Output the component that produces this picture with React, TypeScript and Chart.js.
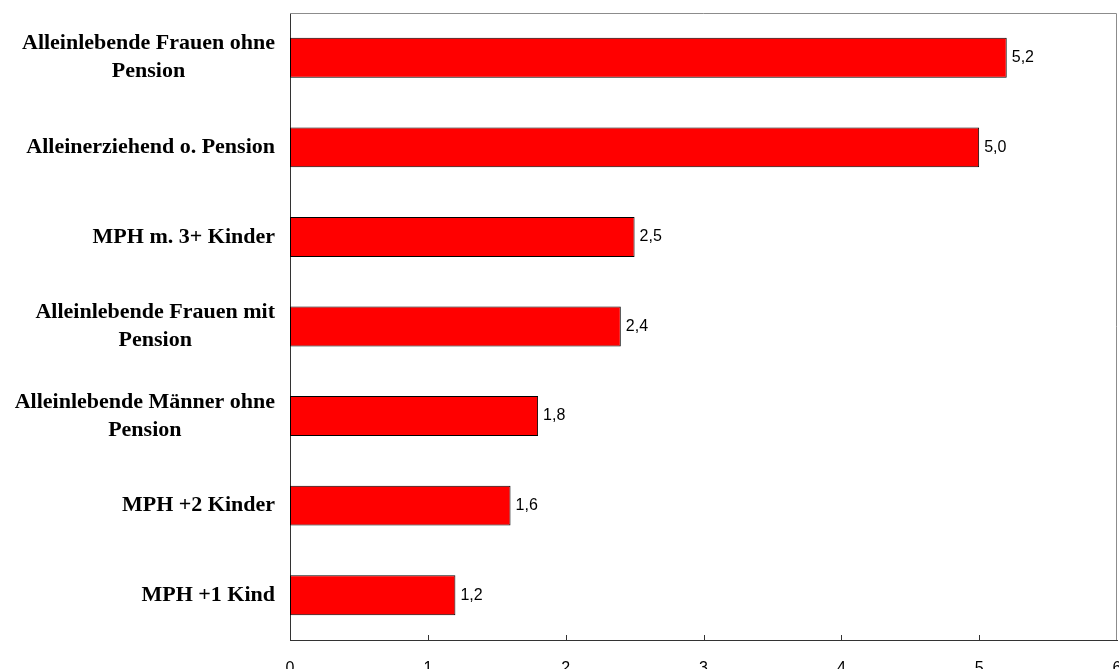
import React, { useEffect, useRef } from "react";
import { Chart, registerables } from "chart.js";

Chart.register(...registerables);

const categories: string[][] = [
  ["Alleinlebende Frauen ohne", "Pension"],
  ["Alleinerziehend o. Pension"],
  ["MPH m. 3+ Kinder"],
  ["Alleinlebende Frauen mit", "Pension"],
  ["Alleinlebende Männer ohne", "Pension"],
  ["MPH +2 Kinder"],
  ["MPH +1 Kind"],
];
const values: number[] = [5.2, 5.0, 2.5, 2.4, 1.8, 1.6, 1.2];
const xMin = 0;
const xMax = 6;
const xStep = 1;

const fmt = (v: number) => v.toFixed(1).replace(".", ",");

const framePlugin = {
  id: "frame",
  beforeDatasetsDraw(chart: any) {
    const { ctx, chartArea } = chart;
    const { left, right, top, bottom } = chartArea;
    ctx.save();
    ctx.strokeStyle = "#8c8c8c";
    ctx.lineWidth = 1;
    ctx.beginPath();
    ctx.moveTo(left, top + 0.5);
    ctx.lineTo(right - 0.5, top + 0.5);
    ctx.lineTo(right - 0.5, bottom);
    ctx.stroke();
    // inner tick marks on bottom axis
    const xs = chart.scales.x;
    ctx.strokeStyle = "#333333";
    ctx.beginPath();
    for (let v = xMin + xStep; v < xMax; v += xStep) {
      const px = Math.round(xs.getPixelForValue(v)) + 0.5;
      ctx.moveTo(px, bottom);
      ctx.lineTo(px, bottom - 5);
    }
    ctx.stroke();
    ctx.restore();
  },
  afterDraw(chart: any) {
    const { ctx } = chart;
    const ys = chart.scales.y;
    ctx.save();
    // category labels: block right-aligned, lines centered
    ctx.font = 'bold 22px "Liberation Serif", "Times New Roman", serif';
    ctx.fillStyle = "#000";
    ctx.textAlign = "center";
    ctx.textBaseline = "middle";
    const lh = 28;
    categories.forEach((lines, i) => {
      const cy = ys.getPixelForValue(i);
      const w = Math.max(...lines.map((l) => ctx.measureText(l).width));
      const cx = ys.right - 15 - w / 2;
      lines.forEach((l, j) => {
        ctx.fillText(l, cx, cy + (j - (lines.length - 1) / 2) * lh);
      });
    });
    // value labels
    ctx.font = '16px "Liberation Sans", Arial, sans-serif';
    ctx.textAlign = "left";
    const meta = chart.getDatasetMeta(0);
    meta.data.forEach((bar: any, i: number) => {
      ctx.fillText(fmt(values[i]), bar.x + 5, bar.y);
    });
    ctx.restore();
  },
};

export default function App() {
  const ref = useRef<HTMLCanvasElement | null>(null);
  useEffect(() => {
    if (!ref.current) return;
    const chart = new Chart(ref.current, {
      type: "bar",
      data: {
        labels: categories.map((c) => c.join(" ")),
        datasets: [
          {
            data: values,
            backgroundColor: "#ff0000",
            borderColor: "#000000",
            borderWidth: 1,
            borderSkipped: false,
            barPercentage: 0.446,
            categoryPercentage: 1,
          },
        ],
      },
      options: {
        indexAxis: "y",
        animation: false,
        responsive: true,
        maintainAspectRatio: false,
        layout: { padding: { top: 13, right: 2, left: 0, bottom: 0 } },
        plugins: {
          legend: { display: false },
          tooltip: { enabled: false },
        },
        scales: {
          x: {
            type: "linear",
            min: xMin,
            max: xMax,
            ticks: {
              stepSize: xStep,
              color: "#000",
              padding: 19,
              font: { family: '"Liberation Sans", Arial, sans-serif', size: 16 },
              callback: (v: any) => String(v),
              maxRotation: 0,
              autoSkip: false,
            },
            grid: { display: false, drawTicks: false },
            border: { display: true, color: "#333333", width: 1 },
            afterFit: (s: any) => {
              s.height = 50;
              s.paddingLeft = 0;
              s.paddingRight = 0;
            },
          },
          y: {
            type: "category",
            ticks: { display: false },
            grid: { display: false, drawTicks: false },
            border: { display: true, color: "#333333", width: 1 },
            afterFit: (s: any) => {
              s.width = 290;
              s.paddingTop = 0;
              s.paddingBottom = 0;
            },
          },
        },
      },
      plugins: [framePlugin],
    });
    return () => chart.destroy();
  }, []);
  return (
    <div
      style={{
        position: "fixed",
        left: 0,
        top: 0,
        width: 1119,
        height: 669,
        overflow: "hidden",
        background: "#fff",
      }}
    >
      <div style={{ position: "relative", width: 1119, height: 690 }}>
        <canvas ref={ref} />
      </div>
    </div>
  );
}
